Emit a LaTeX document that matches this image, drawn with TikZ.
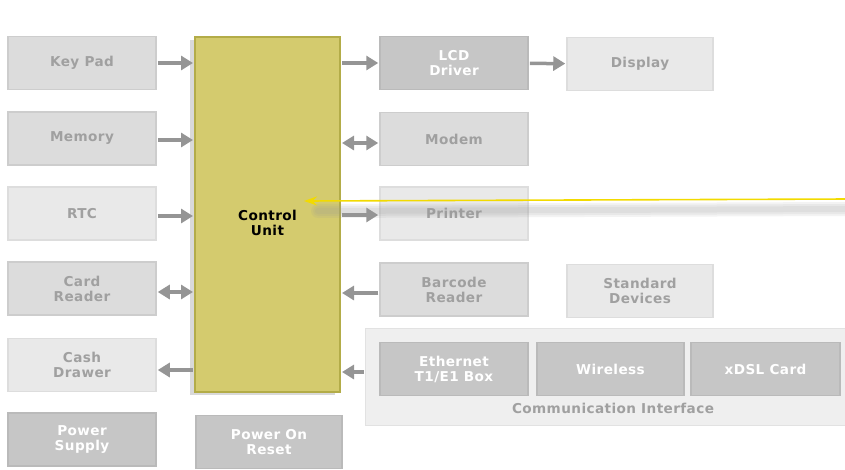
\documentclass[tikz,border=0pt]{standalone}
\usepackage{fontspec}
\setmainfont[LetterSpace=3]{DejaVu Sans}
\usetikzlibrary{arrows.meta,shadows}

\definecolor{midfill}{HTML}{DCDCDC}
\definecolor{midline}{HTML}{CDCDCD}
\definecolor{litefill}{HTML}{E9E9E9}
\definecolor{liteline}{HTML}{DDDDDD}
\definecolor{darkfill}{HTML}{C6C6C6}
\definecolor{darkline}{HTML}{BABABA}
\definecolor{txtgray}{HTML}{A0A0A0}
\definecolor{arrgray}{HTML}{959595}
\definecolor{cufill}{HTML}{D4CB6E}
\definecolor{culine}{HTML}{B3AC48}
\definecolor{groupfill}{HTML}{EFEFEF}
\definecolor{groupline}{HTML}{E2E2E2}
\definecolor{pointer}{HTML}{F2DA00}

\begin{document}
\begin{tikzpicture}[x=1pt,y=-1pt,>={Triangle[length=12pt,width=14pt]},
  font=\bfseries\fontsize{13.6}{15}\selectfont,
  base/.style={line width=1.5pt,minimum width=148,minimum height=53,align=center,inner sep=0pt},
  mid/.style={base,draw=midline,fill=midfill,text=txtgray},
  lite/.style={base,draw=liteline,fill=litefill,text=txtgray},
  dark/.style={base,draw=darkline,fill=darkfill,text=white},
  cu/.style={draw=culine,line width=2pt,fill=cufill,minimum width=145,minimum height=355,
    drop shadow={shadow xshift=-5pt,shadow yshift=-3pt,opacity=0.3}},
  group/.style={draw=groupline,line width=1pt,fill=groupfill,minimum width=484,minimum height=97},
  link/.style={draw=arrgray,line width=3.5pt,shorten >=1pt,shorten <=1pt},
  haze/.style={line width=#1,black!40,opacity=0.12}]
\useasboundingbox (0,0) rectangle (845,469);

\node[mid] (keypad) at (82,63) {Key Pad};
\node[mid] (memory) at (82,138.5) {Memory};
\node[lite] (rtc) at (82,213.5) {RTC};
\node[mid] (card) at (82,288.5) {Card\\Reader};
\node[lite] (cash) at (82,365) {Cash\\Drawer};
\node[dark] (power) at (82,439.5) {Power\\Supply};

\node[cu,label={[align=center,yshift=-8pt]center:Control\\Unit}] (cu) at (267.5,214.5) {};
\node[dark,minimum width=146] (reset) at (269,442) {Power On\\Reset};

\node[dark] (lcd) at (454,63) {LCD\\Driver};
\node[lite,minimum width=146] (display) at (640,64) {Display};
\node[mid] (modem) at (454,139) {Modem};
\node[lite] (printer) at (454,213.5) {Printer};
\node[mid] (barcode) at (454,289.5) {Barcode\\Reader};
\node[lite,minimum width=146] (std) at (640,291) {Standard\\Devices};

\node[group] (comm) at (607,376.5) {};
\node[text=txtgray] (commlbl) at (613,408) {Communication Interface};
\node[dark] (eth) at (454,369) {Ethernet\\T1/E1 Box};
\node[dark,minimum width=147] (wireless) at (610.5,369) {Wireless};
\node[dark,minimum width=149] (xdsl) at (765.5,369) {xDSL Card};

\draw[link,->] (keypad.east) -- (keypad.east -| cu.west);
\draw[link,->] ([yshift=-1.5pt]memory.east) -- ([yshift=-1.5pt]memory.east -| cu.west);
\draw[link,->] ([yshift=-2.5pt]rtc.east) -- ([yshift=-2.5pt]rtc.east -| cu.west);
\draw[link,<->] ([yshift=-3.5pt]card.east) -- ([yshift=-3.5pt]card.east -| cu.west);
\draw[link,<-] ([yshift=-5pt]cash.east) -- ([yshift=-5pt]cash.east -| cu.west);
\draw[link,->] (lcd.west -| cu.east) -- (lcd.west);
\draw[link,->] (lcd) -- (display);
\draw[link,<->] ([yshift=-4pt]modem.west -| cu.east) -- ([yshift=-4pt]modem.west);
\draw[link,->] ([yshift=-1.5pt]printer.west -| cu.east) -- ([yshift=-1.5pt]printer.west);
\draw[link,->] ([yshift=-3.5pt]barcode.west) -- ([yshift=-3.5pt]barcode.west -| cu.east);
\draw[link,->] ([yshift=-3pt]eth.west -| comm.west) -- ([yshift=-3pt]eth.west -| cu.east);

\coordinate (ptr) at (848,199);
\coordinate (tip) at (304,201);
\foreach \w in {14pt,10pt,6pt}
  \draw[haze=\w,line cap=round] ([yshift=-10pt]ptr) -- ([xshift=14pt,yshift=-10pt]tip);
\draw[pointer,line width=1.6pt,-{Stealth[length=13pt,width=9pt]}] (ptr) -- (tip);

\end{tikzpicture}
\end{document}
